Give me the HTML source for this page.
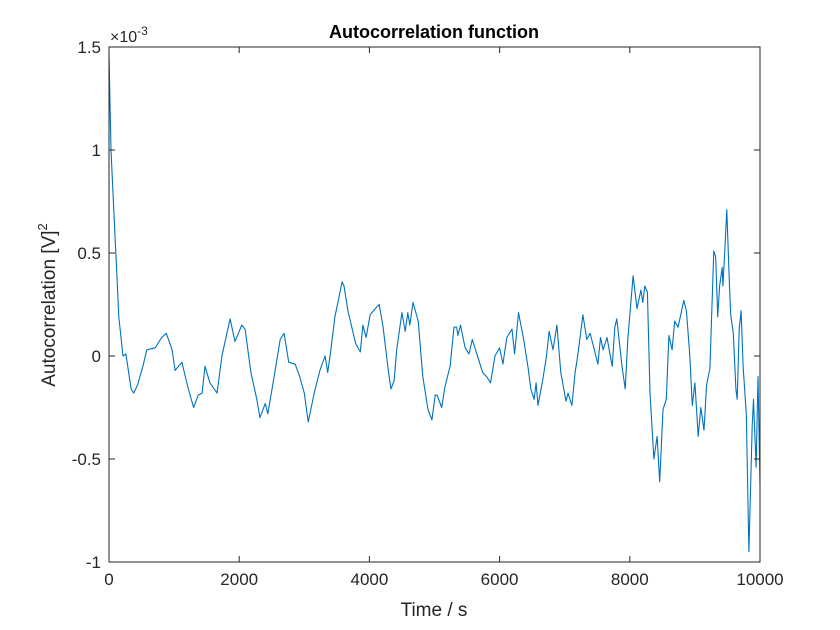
<!DOCTYPE html>
<html><head><meta charset="utf-8"><style>
body{margin:0;background:#fff;}
svg{display:block;font-family:"Liberation Sans",Arial,sans-serif;}
</style></head><body>
<svg id="chart" width="840" height="630" viewBox="0 0 840 630"></svg>
<script>
const tVals=[0,10,30,60,120,150,215,260,340,380,440,520,580,710,810,880,970,1015,1120,1210,1300,1370,1430,1475,1550,1660,1735,1860,1935,2040,2090,2180,2270,2320,2400,2440,2520,2630,2690,2760,2860,2930,3000,3060,3160,3240,3320,3360,3400,3470,3580,3610,3670,3730,3790,3860,3900,3950,4010,4090,4150,4210,4290,4330,4380,4420,4500,4550,4590,4620,4670,4750,4820,4900,4960,5010,5040,5110,5160,5240,5300,5340,5360,5400,5470,5530,5580,5650,5740,5800,5860,5930,6000,6050,6110,6190,6230,6290,6370,6440,6480,6530,6560,6590,6660,6720,6760,6820,6880,6940,7020,7050,7110,7160,7200,7280,7340,7390,7440,7510,7550,7590,7650,7700,7730,7770,7800,7880,7930,7970,8050,8110,8170,8200,8230,8270,8310,8370,8420,8460,8510,8560,8600,8650,8690,8740,8790,8830,8870,8920,8960,9000,9050,9090,9140,9180,9230,9290,9320,9350,9380,9420,9430,9460,9490,9530,9550,9590,9630,9650,9680,9710,9740,9790,9830,9880,9900,9940,9970,10000];
const acVals=[1.47,1.3,1.0,0.8,0.40,0.19,0.0,0.01,-0.16,-0.18,-0.14,-0.05,0.03,0.04,0.09,0.11,0.03,-0.07,-0.03,-0.15,-0.25,-0.19,-0.18,-0.05,-0.13,-0.18,0.0,0.18,0.07,0.15,0.13,-0.08,-0.21,-0.30,-0.23,-0.28,-0.13,0.08,0.11,-0.03,-0.04,-0.10,-0.18,-0.32,-0.17,-0.07,0.0,-0.08,0.01,0.19,0.36,0.34,0.22,0.14,0.06,0.02,0.15,0.09,0.20,0.23,0.25,0.14,-0.07,-0.16,-0.12,0.03,0.21,0.12,0.21,0.15,0.26,0.17,-0.10,-0.26,-0.31,-0.19,-0.19,-0.25,-0.15,-0.05,0.14,0.14,0.10,0.15,0.04,0.01,0.08,0.01,-0.08,-0.10,-0.13,0.0,0.04,-0.04,0.09,0.13,0.01,0.21,0.08,-0.06,-0.16,-0.21,-0.13,-0.24,-0.12,0.0,0.12,0.03,0.15,-0.08,-0.22,-0.18,-0.24,-0.08,0.0,0.2,0.08,0.11,0.05,-0.04,0.09,0.03,0.09,0.0,-0.05,0.14,0.18,-0.05,-0.16,0.08,0.39,0.23,0.32,0.26,0.34,0.31,-0.18,-0.50,-0.39,-0.61,-0.26,-0.21,0.10,0.03,0.17,0.14,0.21,0.27,0.22,0.01,-0.24,-0.13,-0.39,-0.25,-0.36,-0.14,-0.06,0.51,0.48,0.19,0.34,0.43,0.34,0.51,0.71,0.35,0.20,0.11,-0.16,-0.21,0.13,0.22,-0.05,-0.28,-0.95,-0.34,-0.21,-0.54,-0.10,-0.62];
const xTicks=[0,2000,4000,6000,8000,10000];
const yTicks=[-1,-0.5,0,0.5,1,1.5];
const yTickLabels=["-1","-0.5","0","0.5","1","1.5"];

const L=109,R=760,T=47,B=562;
const xS=v=>L+(v-0)/(10000)*(R-L);
const yS=v=>B-(v+1)/2.5*(B-T);
const NS="http://www.w3.org/2000/svg";
const svg=document.getElementById('chart');
function mk(tag,attrs,parent){const e=document.createElementNS(NS,tag);for(const k in attrs)e.setAttribute(k,attrs[k]);(parent||svg).appendChild(e);return e;}

let d="";
tVals.forEach((t,i)=>{d+=(i?"L":"M")+xS(t).toFixed(1)+","+yS(acVals[i]).toFixed(1);});
const line=mk('path',{d:d,fill:'none',stroke:'#0072BD','stroke-width':1.1,'stroke-linejoin':'round'});



const box=mk('rect',{x:L,y:T,width:R-L,height:B-T,fill:'none',stroke:'#262626','stroke-width':1});



xTicks.forEach(v=>{
  const x=xS(v);
  mk('line',{x1:x,x2:x,y1:B,y2:B-6,stroke:'#262626'});
  mk('line',{x1:x,x2:x,y1:T,y2:T+6,stroke:'#262626'});
  const t=mk('text',{x:x,y:B+23,'text-anchor':'middle','font-size':17,fill:'#262626'});
  t.textContent=v;
  
  
});
yTicks.forEach((v,i)=>{
  const y=yS(v);
  mk('line',{x1:L,x2:L+6,y1:y,y2:y,stroke:'#262626'});
  mk('line',{x1:R,x2:R-6,y1:y,y2:y,stroke:'#262626'});
  const t=mk('text',{x:L-8,y:y+6,'text-anchor':'end','font-size':17,fill:'#262626'});
  t.textContent=yTickLabels[i];
  
  
});
</script>
<svg style="position:absolute;left:0;top:0" width="840" height="630">
<text x="434" y="38" text-anchor="middle" font-size="18" font-weight="bold" fill="#000">Autocorrelation function</text>
<text x="434" y="616" text-anchor="middle" font-size="19" fill="#262626">Time / s</text>
<text transform="translate(55,305) rotate(-90)" text-anchor="middle" font-size="19" fill="#262626">Autocorrelation [V]<tspan dy="-8" font-size="13">2</tspan></text>
<text x="110" y="42" font-size="16" fill="#262626">×10<tspan dy="-7" font-size="12">-3</tspan></text>
</svg>
</body></html>
